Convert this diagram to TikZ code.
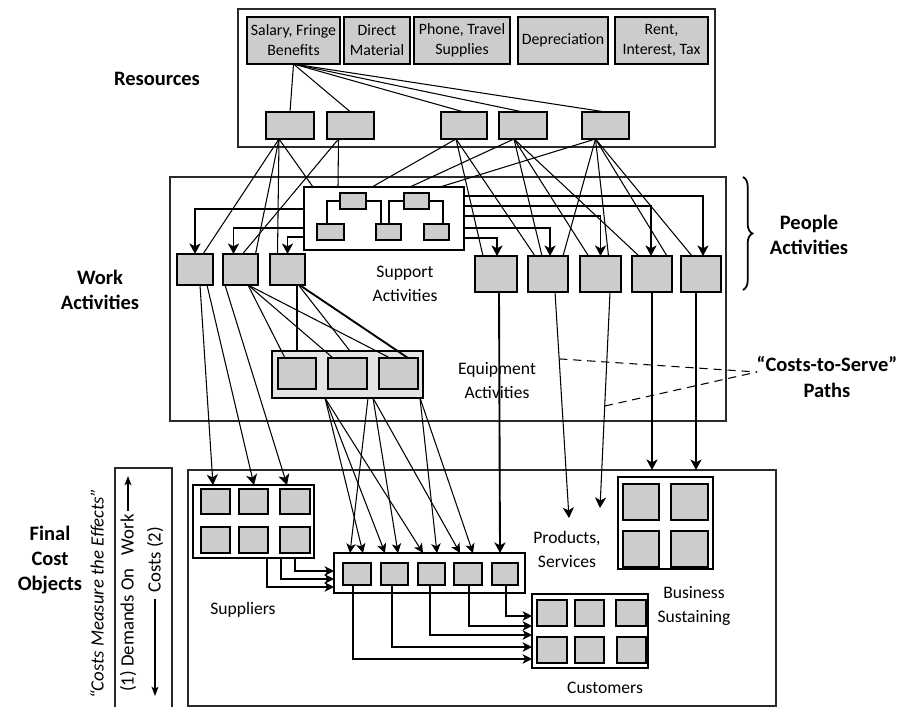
\documentclass[tikz,border=0pt]{standalone}
\usepackage{fontspec}
\setmainfont{Carlito}
\usetikzlibrary{arrows.meta,calc,decorations.pathreplacing}
\definecolor{boxgray}{HTML}{CCCCCC}
\definecolor{eqgray}{HTML}{E4E4E4}
\definecolor{framegray}{HTML}{2A2A2A}
\pgfdeclarelayer{bg}
\pgfsetlayers{bg,main}
\newcommand{\mkbox}[7][]{\node[boxbase,#1,minimum width={(#4-#2)*0.03cm},minimum height={(#5-#3)*0.03cm}] (#6) at ({(#2+#4)/2},{(#3+#5)/2}) {#7};}
\begin{document}
\begin{tikzpicture}[x=0.03cm,y=-0.03cm,
  boxbase/.style={draw, inner sep=0pt, outer sep=0pt, line width=0.9pt},
  gbox/.style={fill=boxgray},
  frame/.style={draw=framegray},
  tline/.style={line width=0.9pt},
  kline/.style={line width=1.6pt},
  bigtip/.style={-{Stealth[length=9pt,width=9.5pt,inset=2.5pt]}},
  midtip/.style={-{Stealth[length=8pt,width=8pt,inset=2.2pt]}},
  narrowtip/.style={-{Stealth[length=8pt,width=6pt,inset=2pt]}},
  boldlab/.style={font=\fontsize{17.5}{21.5}\selectfont\bfseries, align=center, inner sep=0pt},
  lab/.style={font=\fontsize{15}{20.5}\selectfont, align=center, inner sep=0pt},
  boxlab/.style={font=\fontsize{13.5}{17}\selectfont, align=center},
  sidelab/.style={font=\fontsize{16}{18}\selectfont, inner sep=0pt, rotate=90}
]
\fill[white] (0,0) rectangle (904,707);
\useasboundingbox (0,0) rectangle (904,707);

% frames
\mkbox[frame]{238}{9}{715}{147}{Ftop}{}
\mkbox[frame]{170}{177}{726}{421}{Fmid}{}
\mkbox[frame]{188}{470}{776}{706}{Fbot}{}
\mkbox[frame]{115}{468}{172}{730}{Fleft}{}

% resources
\mkbox[gbox,boxlab]{247}{17}{340}{64}{r1}{Salary, Fringe\\Benefits}
\mkbox[gbox,boxlab]{344}{17}{410}{64}{r2}{Direct\\Material}
\mkbox[gbox,boxlab]{414}{17}{510}{64}{r3}{Phone, Travel\\Supplies}
\mkbox[gbox,boxlab]{518}{17}{608}{64}{r4}{Depreciation}
\mkbox[gbox,boxlab]{615}{17}{708}{64}{r5}{Rent,\\Interest, Tax}

% second row
\mkbox[gbox]{266}{112}{314}{139}{b1}{}
\mkbox[gbox]{327}{112}{374}{139}{b2}{}
\mkbox[gbox]{441}{112}{487}{139}{b3}{}
\mkbox[gbox]{499}{112}{547}{139}{b4}{}
\mkbox[gbox]{582}{112}{629}{139}{b5}{}

% support
\mkbox[fill=white]{304}{187}{464}{250}{S}{}
\mkbox[gbox]{340}{193}{366}{209}{s1}{}
\mkbox[gbox]{404}{193}{429}{209}{s2}{}
\mkbox[gbox]{317}{224}{344}{240}{s3}{}
\mkbox[gbox]{376}{224}{401}{240}{s4}{}
\mkbox[gbox]{424}{224}{449}{240}{s5}{}

% work activities
\mkbox[gbox]{177}{254}{213}{285}{w1}{}
\mkbox[gbox]{223}{254}{258}{285}{w2}{}
\mkbox[gbox]{270}{254}{305}{285}{w3}{}

% people activities
\mkbox[gbox]{475}{256}{517}{292}{p1}{}
\mkbox[gbox]{528}{256}{568}{292}{p2}{}
\mkbox[gbox]{580}{256}{621}{292}{p3}{}
\mkbox[gbox]{632}{256}{672}{292}{p4}{}
\mkbox[gbox]{681}{256}{721}{292}{p5}{}

% equipment
\mkbox[fill=eqgray]{272}{351}{423}{398}{E}{}
\mkbox[gbox]{278}{358}{316}{389}{e1}{}
\mkbox[gbox]{328}{358}{367}{389}{e2}{}
\mkbox[gbox]{379}{358}{418}{389}{e3}{}

% suppliers
\mkbox[fill=white]{193}{485}{314}{558}{U}{}
\mkbox[gbox]{201}{489}{230}{514}{u1}{}
\mkbox[gbox]{239}{489}{268}{514}{u2}{}
\mkbox[gbox]{280}{489}{310}{514}{u3}{}
\mkbox[gbox]{201}{527}{230}{553}{u4}{}
\mkbox[gbox]{239}{527}{268}{553}{u5}{}
\mkbox[gbox]{280}{527}{310}{553}{u6}{}

% products
\mkbox[fill=white]{334}{553}{525}{593}{P}{}
\mkbox[gbox]{343}{563}{371}{585}{q1}{}
\mkbox[gbox]{381}{563}{408}{585}{q2}{}
\mkbox[gbox]{418}{563}{445}{585}{q3}{}
\mkbox[gbox]{454}{563}{482}{585}{q4}{}
\mkbox[gbox]{492}{563}{518}{585}{q5}{}

% customers
\mkbox[fill=white]{532}{594}{648}{668}{C}{}
\mkbox[gbox]{537}{600}{567}{626}{c1}{}
\mkbox[gbox]{575}{600}{604}{626}{c2}{}
\mkbox[gbox]{616}{600}{646}{626}{c3}{}
\mkbox[gbox]{537}{637}{567}{663}{c4}{}
\mkbox[gbox]{575}{637}{604}{663}{c5}{}
\mkbox[gbox]{617}{637}{646}{663}{c6}{}

% business sustaining
\mkbox[fill=white]{618}{477}{713}{569}{B}{}
\mkbox[gbox]{623}{484}{659}{520}{g1}{}
\mkbox[gbox]{671}{484}{708}{520}{g2}{}
\mkbox[gbox]{623}{531}{659}{567}{g3}{}
\mkbox[gbox]{671}{531}{708}{567}{g4}{}

% labels
\node[boldlab] (lres) at (157,79) {Resources};
\node[boldlab] (lwork) at (100,290) {Work\\Activities};
\node[boldlab] (lfinal) at (50,560) {Final\\Cost\\Objects};
\node[boldlab] (lpeople) at (809,235) {People\\Activities};
\node[boldlab] (lcts) at (827,377) {“Costs-to-Serve”\\Paths};
\node[lab] (lsup) at (405,284) {Support\\Activities};
\node[lab] (leq) at (497,381) {Equipment\\Activities};
\node[lab] (lprod) at (567,549) {Products,\\Services};
\node[lab] (lbus) at (694,606) {Business\\Sustaining};
\node[lab] (lsupp) at (243,610) {Suppliers};
\node[lab] (lcust) at (605,688) {Customers};

% side texts
\node[sidelab,font=\fontsize{16}{18}\selectfont\itshape] (tcme) at (97,594) {“Costs Measure the Effects”};
\node[sidelab,anchor=west] (tdem) at (128,692) {(1) Demands On\hspace{0.7em}Work};
\node[sidelab,anchor=west] (tcost) at (155,593) {Costs (2)};
\coordinate (upend) at (128,476);
\coordinate (downend) at (155,696);
\draw[tline,narrowtip] ($(tdem.east)+(0,-3)$) -- (upend);
\draw[tline,narrowtip] ($(tcost.west)+(0,6)$) -- (downend);

% resource links
\foreach \t in {b1,b2,b3,b4,b5} \draw[tline] (r1.south) -- (\t.north);

% second row to activities
\coordinate (b1o) at ($(b1.south)+(-11,0)$);
\coordinate (b2o) at ($(b2.south)+(-12,0)$);
\coordinate (b3o) at ($(b3.south)+(-8,0)$);
\coordinate (b4o) at ($(b4.south)+(-9,0)$);
\coordinate (b5o) at ($(b5.south)+(-10,0)$);
\draw[tline] (b1o) -- ($(w1.north)+(8,0)$);
\draw[tline] (b1o) -- ($(w2.north)+(15,0)$);
\draw[tline] (b1o) -- ($(w3.north)+(-10,0)$);
\draw[tline] (b1o) -- ($(S.north west)+(9,0)$);
\draw[tline] (b2o) -- ($(w2.north)+(2,0)$);
\begin{pgfonlayer}{bg}
\draw[tline] (b2o) -- ($(w3.north)+(10,0)$);
\end{pgfonlayer}
\draw[tline] (b2o) -- ($(S.north west)+(34,0)$);
\draw[tline] (b3o) -- ($(S.north west)+(68,0)$);
\draw[tline] (b3o) -- ($(p1.north)+(-13,0)$);
\draw[tline] (b3o) -- ($(p2.north)+(-13,0)$);
\draw[tline] (b4o) -- ($(S.north west)+(106,0)$);
\draw[tline] (b4o) -- ($(p2.north)+(-6,0)$);
\draw[tline] (b4o) -- ($(p3.north)+(-12,0)$);
\draw[tline] (b4o) -- ($(p4.north)+(-13,0)$);
\draw[tline] (b5o) -- ($(S.north east)+(-24,0)$);
\draw[tline] (b5o) -- ($(p2.north)+(15,0)$);
\draw[tline] (b5o) -- ($(p3.north)+(8,0)$);
\draw[tline] (b5o) -- ($(p4.north)+(15,0)$);
\draw[tline] (b5o) -- ($(p5.north)+(-9,0)$);

% support internal brackets
\draw[line width=1.2pt] (s1.west) -| ($(s3.north)+(-3.5,0)$);
\draw[line width=1.2pt] (s1.east) -| ($(s4.north)+(-7.5,0)$);
\draw[line width=1.2pt] (s2.west) -| ($(s4.north)+(0.5,0)$);
\draw[line width=1.2pt] (s2.east) -| ($(s5.north)+(6.5,0)$);

% support to activities
\draw[kline,bigtip] ($(S.west)+(0,-9.5)$) -| (w1.north);
\draw[kline,bigtip] ($(S.west)+(0,9.5)$) -| ($(w2.north)+(-7,0)$);
\draw[kline,bigtip] ($(S.west)+(0,18.5)$) -| (w3.north);
\draw[kline,bigtip] ($(S.east)+(0,-22.5)$) -| ($(p5.north)+(2,0)$);
\draw[kline,bigtip] ($(S.east)+(0,-12.5)$) -| ($(p4.north)+(-1,0)$);
\draw[kline,bigtip] ($(S.east)+(0,-2.5)$) -| (p3.north);
\draw[kline,bigtip] ($(S.east)+(0,9.5)$) -| ($(p2.north)+(2,0)$);
\draw[kline,bigtip] ($(S.east)+(0,19.5)$) -| ($(p1.north)+(1,0)$);

% work to suppliers
\draw[tline,bigtip] ($(w1.south)+(5,0)$) -- ($(U.north)+(-40.5,0)$);
\draw[tline,bigtip] ($(w1.south)+(12,0)$) -- ($(U.north)+(0.5,0)$);
\draw[tline,bigtip] ($(w2.south)+(-15.5,0)$) -- ($(U.north)+(33.5,0)$);

% work to equipment
\coordinate (w2o) at ($(w2.south)+(7.5,0)$);
\draw[tline] (w2o) -- ($(e1.north)+(-12,0)$);
\draw[tline] (w2o) -- ($(e2.north)+(-14.5,0)$);
\draw[tline] (w2o) -- ($(e3.north)+(-8.5,0)$);
\draw[kline] ($(w3.south)+(9.5,0)$) -- ($(E.north)+(-50.5,0)$);
\draw[tline] ($(w3.south)+(11,0)$) -- ($(E.north)+(2.5,0)$);
\draw[kline] ($(w3.south)+(12,0)$) -- ($(e3.north)+(9.5,0)$);

% equipment to products
\coordinate (E1) at ($(E.south)+(-22.5,0)$);
\coordinate (E2) at ($(E.south)+(20.5,0)$);
\coordinate (E3) at ($(E.south)+(25.5,0)$);
\coordinate (E4) at ($(E.south)+(72.5,0)$);
\draw[tline,midtip] (E1) -- ($(P.north)+(-66.5,0)$);
\draw[tline,midtip] (E1) -- ($(P.north)+(-44.5,0)$);
\draw[tline,midtip] (E1) -- ($(P.north)+(-6.5,0)$);
\draw[tline,midtip] (E2) -- ($(P.north)+(-79.5,0)$);
\draw[tline,midtip] (E3) -- ($(P.north)+(-31.5,0)$);
\draw[tline,midtip] (E3) -- ($(P.north)+(30.5,0)$);
\draw[tline,midtip] (E4) -- ($(P.north)+(7.5,0)$);
\draw[tline,midtip] (E4) -- ($(P.north)+(43.5,0)$);

% people to final cost objects
\draw[kline,bigtip] ($(p1.south)+(3,0)$) -- ($(P.north)+(70.5,0)$);
\coordinate (p2a) at ($(p2.south)+(7,0)$);
\coordinate (p3a) at ($(p3.south)+(9.5,0)$);
\coordinate (tipA) at (569,518);
\coordinate (tipB) at (600,508);
\draw[tline,bigtip] (p2a) -- (tipA);
\draw[tline,bigtip] (p3a) -- (tipB);
\draw[kline,bigtip] (p4.south) -- (p4.south |- Fbot.north);
\coordinate (p5o) at ($(p5.south)+(-5,0)$);
\draw[kline,bigtip] (p5o) -- (p5o |- Fbot.north);

% costs-to-serve dashed
\coordinate (dashend) at (757,372);
\draw[tline,dash pattern=on 7pt off 5pt] ($(p2a)!0.296!(tipA)$) -- (dashend);
\draw[tline,dash pattern=on 7pt off 5pt] ($(p3a)!0.528!(tipB)$) -- (dashend);

% suppliers to products
\draw[kline,midtip] ($(U.south)+(13.5,0)$) |- ($(P.west)+(0,14)$);
\draw[kline,midtip] ($(U.south)+(27.5,0)$) |- ($(P.west)+(0,6)$);
\draw[kline,midtip] ($(U.south)+(41.5,0)$) |- ($(P.west)+(0,-2)$);

% products to customers
\draw[kline,midtip] ($(q1.south)+(-4,0)$) |- ($(C.west)+(0,28)$);
\draw[kline,midtip] ($(q2.south)+(-2.5,0)$) |- ($(C.west)+(0,16)$);
\draw[kline,midtip] ($(q3.south)+(-1.5,0)$) |- ($(C.west)+(0,4)$);
\draw[kline,midtip] ($(q4.south)+(1,0)$) |- ($(C.west)+(0,-5)$);
\draw[kline,midtip] ($(q5.south)+(1,0)$) |- ($(C.west)+(0,-15)$);

% brace
\draw[line width=1.5pt,decorate,decoration={brace,amplitude=8pt}] (743,177) -- (743,290);
\end{tikzpicture}
\end{document}
